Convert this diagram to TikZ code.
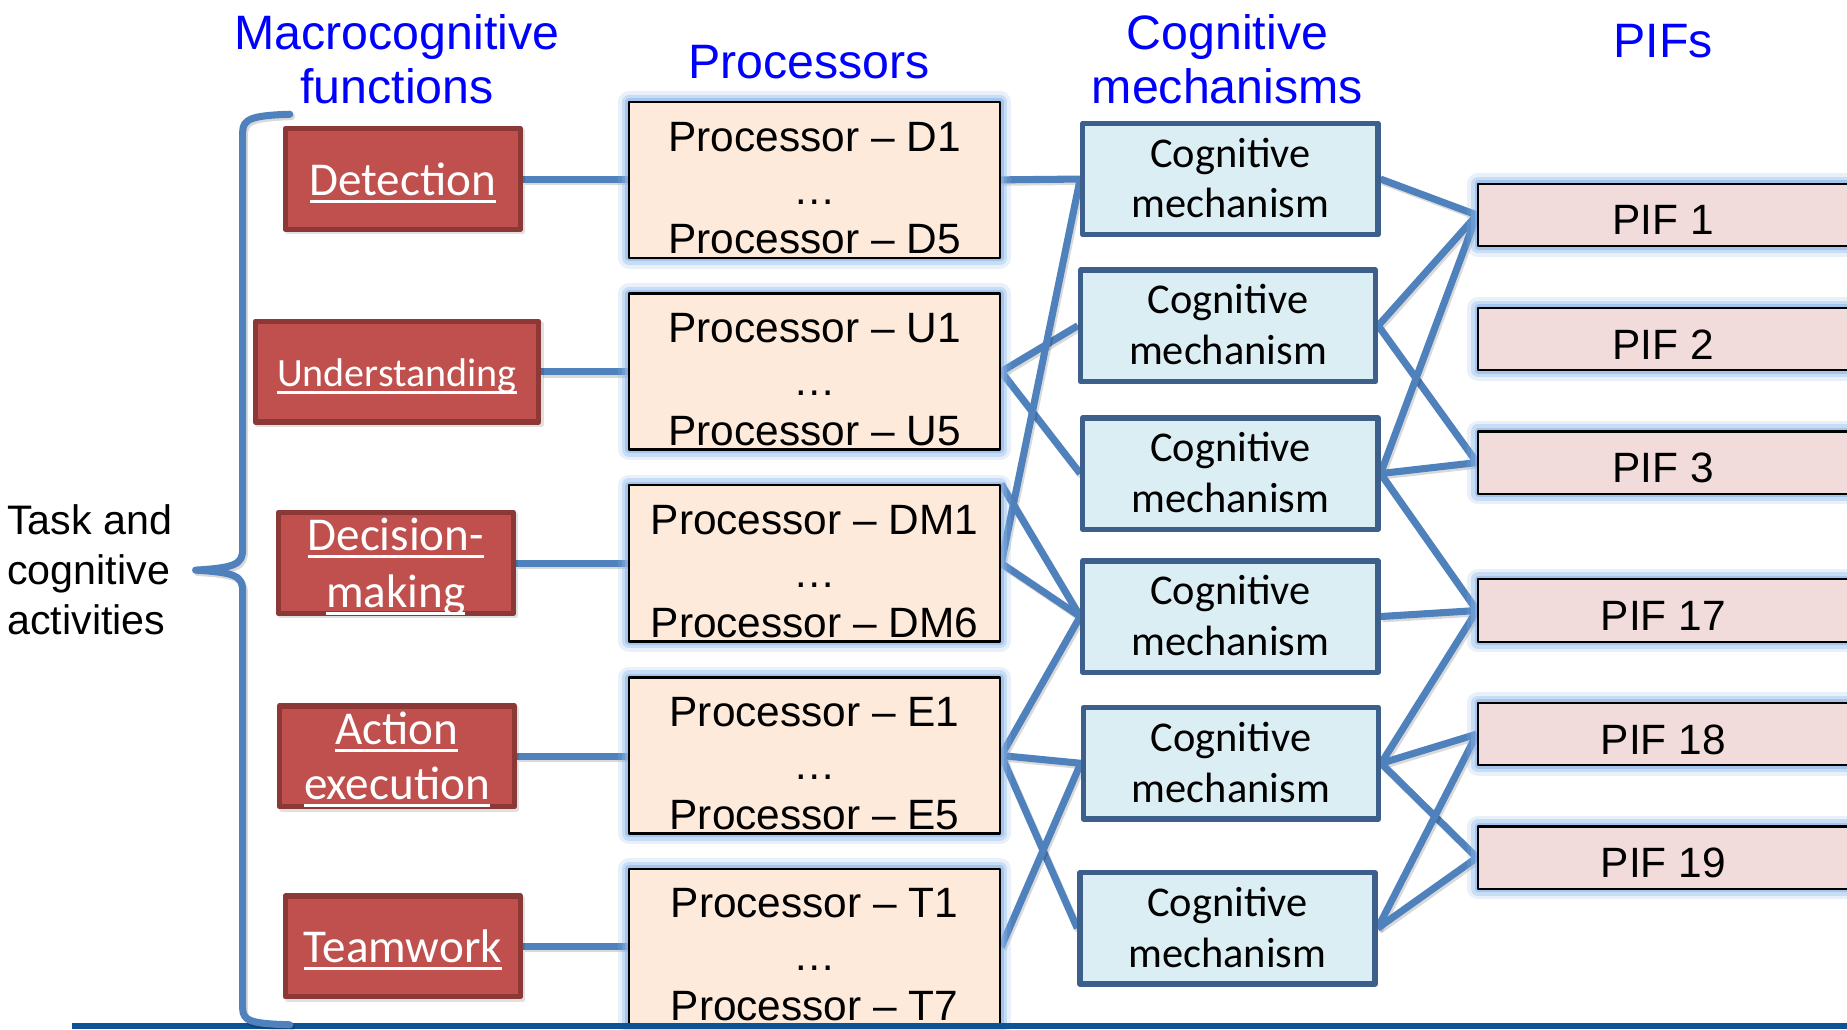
\documentclass[tikz,border=0pt]{standalone}
\usepackage{fontspec}
\setmainfont{Liberation Sans}
\newfontfamily\calibri{Carlito}
\definecolor{redfill}{RGB}{192,80,77}
\definecolor{redline}{RGB}{140,56,54}
\definecolor{procfill}{RGB}{253,234,218}
\definecolor{piffill}{RGB}{242,220,219}
\definecolor{cmfill}{RGB}{219,238,244}
\definecolor{cmline}{RGB}{61,95,140}
\definecolor{connc}{RGB}{79,129,189}
\definecolor{glowc}{RGB}{140,182,232}
\definecolor{botline}{RGB}{11,83,148}
\definecolor{hdrblue}{RGB}{0,0,255}
\newcommand\myul[1]{\setbox0\hbox{#1}\rlap{\rule[-6.2pt]{\wd0}{2.5pt}}\box0}
\pgfdeclarelayer{bg}
\pgfsetlayers{bg,main}
\begin{document}
\begin{tikzpicture}[x=1pt,y=-1pt,line join=round,
  glow/.style={preaction={draw=glowc,draw opacity=0.2,line width=18pt},
               preaction={draw=glowc,draw opacity=0.35,line width=12pt},
               preaction={draw=glowc,draw opacity=0.6,line width=6pt}},
  hdr/.style={inner sep=0pt,anchor=base,text=hdrblue,font=\fontsize{41}{46}\selectfont},
  task/.style={inner sep=0pt,anchor=base west,font=\fontsize{35}{42}\selectfont},
  redb/.style={draw=redline,fill=redfill,line width=4.5pt,inner sep=0pt,minimum height=85.5pt,
               preaction={draw=black,draw opacity=0.12,line width=4.5pt,transform canvas={shift={(2pt,-2pt)}}}},
  redt/.style={inner sep=0pt,anchor=base,text=white,font=\calibri\fontsize{40}{48}\selectfont},
  procb/.style={glow,draw=black,fill=procfill,line width=2pt,inner sep=0pt,minimum width=315pt,minimum height=132.5pt},
  proct/.style={inner sep=0pt,anchor=base,font=\fontsize{36}{43}\selectfont},
  cmb/.style={draw=cmline,fill=cmfill,line width=4.5pt,inner sep=0pt,minimum width=250.5pt,minimum height=94.5pt},
  cmt/.style={inner sep=0pt,anchor=base,font=\calibri\fontsize{36}{43}\selectfont},
  pifb/.style={glow,draw=black,fill=piffill,line width=2pt,inner sep=0pt,minimum width=344pt,minimum height=53pt},
  pift/.style={inner sep=0pt,anchor=base,font=\fontsize{36}{43}\selectfont},
  conn/.style={draw=connc,line width=6pt,
               preaction={draw=black,draw opacity=0.15,line width=6pt,transform canvas={shift={(1.5pt,-2pt)}}}},
  bracestyle/.style={draw=connc,line width=6pt,line cap=round,
               preaction={draw=black,draw opacity=0.15,line width=6pt,line cap=round,transform canvas={shift={(1.5pt,-2pt)}}}},
  botstyle/.style={draw=botline,line width=5.5pt}
]
\useasboundingbox (0,0) rectangle (1568,874);

% headers
\node[hdr] (h1a) at (337,42) {Macrocognitive};
\node[hdr] (h1b) at (337,88) {functions};
\node[hdr] (h2) at (687,67) {Processors};
\node[hdr] (h3a) at (1042,42) {Cognitive};
\node[hdr] (h3b) at (1042,88) {mechanisms};
\node[hdr] (h4) at (1412,49) {PIFs};

% task text
\node[task] (t1) at (6,454) {Task and};
\node[task] (t2) at (6,496) {cognitive};
\node[task] (t3) at (6,539) {activities};

% red boxes
\node[redb,minimum width=199.5pt] (det) at (342,152) {};
\node[redt] (dett) at (342,166) {\myul{Detection}};
\node[redb,minimum width=240.5pt] (und) at (337,315.5) {};
\node[redt,font=\calibri\fontsize{34}{40}\selectfont] (undt) at (337,328) {\myul{Understanding}};
\node[redb,minimum width=199.5pt] (dec) at (336,478) {};
\node[redt] (dect1) at (336,467.5) {\myul{Decision-}};
\node[redt] (dect2) at (336,515.5) {\myul{making}};
\node[redb,minimum width=199.5pt] (act) at (337,642) {};
\node[redt] (actt1) at (337,632) {\myul{Action}};
\node[redt] (actt2) at (337,679) {\myul{execution}};
\node[redb,minimum width=199.5pt] (team) at (342,803.5) {};
\node[redt] (teamt) at (342,817.5) {\myul{Teamwork}};

% processor boxes
\foreach \n/\y/\a/\b in {pd/152.7/D1/D5, pu/315.5/U1/U5, pdm/478.2/DM1/DM6, pe/641.4/E1/E5, pt/803.8/T1/T7}{
  \node[procb] (\n) at (691.5,\y) {};
  \node[proct] (\n1) at (691.5,{\y-24.5}) {Processor – \a};
  \node[proct] (\n2) at (691.5,{\y+20.5}) {…};
  \node[proct] (\n3) at (691.5,{\y+62.8}) {Processor – \b};
}

% cognitive mechanism boxes
\foreach \n/\x/\y in {cm1/1044.5/152, cm2/1042.5/276.5, cm3/1044.5/402, cm4/1044.5/523.4, cm5/1045/648, cm6/1042/788}{
  \node[cmb] (\n) at (\x,\y) {};
  \node[cmt] (\n a) at (\x,{\y-10}) {Cognitive};
  \node[cmt] (\n b) at (\x,{\y+33}) {mechanism};
}

% PIF boxes
\foreach \n/\y/\t in {p1/182.5/1, p2/287.8/2, p3/392.7/3, p17/518.3/17, p18/623.2/18, p19/728.1/19}{
  \node[pifb] (\n) at (1426.8,\y) {};
  \node[pift] (\n t) at (1412,{\y+17}) {PIF \t};
}

% connectors
\begin{pgfonlayer}{bg}
\draw[conn] (det.east) -- (det.east -| pd.west);
\draw[conn] (und.east) -- (und.east -| pu.west);
\draw[conn] (dec.east) -- (dec.east -| pdm.west);
\draw[conn] (act.east) -- (act.east -| pe.west);
\draw[conn] (team.east) -- (team.east -| pt.west);

\draw[conn] (pd.east) -- (cm1.west);
\draw[conn] (pu.east) -- (cm2.west);
\draw[conn] (pu.east) -- (cm3.west);
\draw[conn] (pdm.east) -- (cm1.west);
\draw[conn] (pdm.east) -- (cm4.west);
\draw[conn] (pdm.north east) -- (cm4.west);
\draw[conn] (pe.east) -- (cm4.west);
\draw[conn] (pe.east) -- (cm5.west);
\draw[conn] (pe.east) -- (cm6.west);
\draw[conn] (pt.east) -- (cm5.west);

\draw[conn] (cm1.east) -- (p1.west);
\draw[conn] (cm2.east) -- (p1.west);
\draw[conn] (cm2.east) -- (p3.west);
\draw[conn] (cm3.east) -- (p1.west);
\draw[conn] (cm3.east) -- (p3.west);
\draw[conn] (cm3.east) -- (p17.west);
\draw[conn] (cm4.east) -- (p17.west);
\draw[conn] (cm5.east) -- (p17.west);
\draw[conn] (cm5.east) -- (p18.west);
\draw[conn] (cm5.east) -- (p19.west);
\draw[conn] (cm6.east) -- (p18.west);
\draw[conn] (cm6.east) -- (p19.west);
\end{pgfonlayer}

% bottom line
\coordinate (bl) at (61,871);
\coordinate (br) at (1568,871);
\draw[botstyle] (bl) -- (br);

% brace
\coordinate (btop) at (246,97);
\coordinate (btip) at (166,484);
\coordinate (bbot) at (246,870);
\draw[bracestyle] (btop) .. controls (214,98) and (206,101) .. (206,112) -- (206,466)
  .. controls (206,479) and (200,482) .. (btip)
  .. controls (200,486) and (206,489) .. (206,502) -- (206,856)
  .. controls (206,867) and (214,869) .. (bbot);
\end{tikzpicture}
\end{document}
